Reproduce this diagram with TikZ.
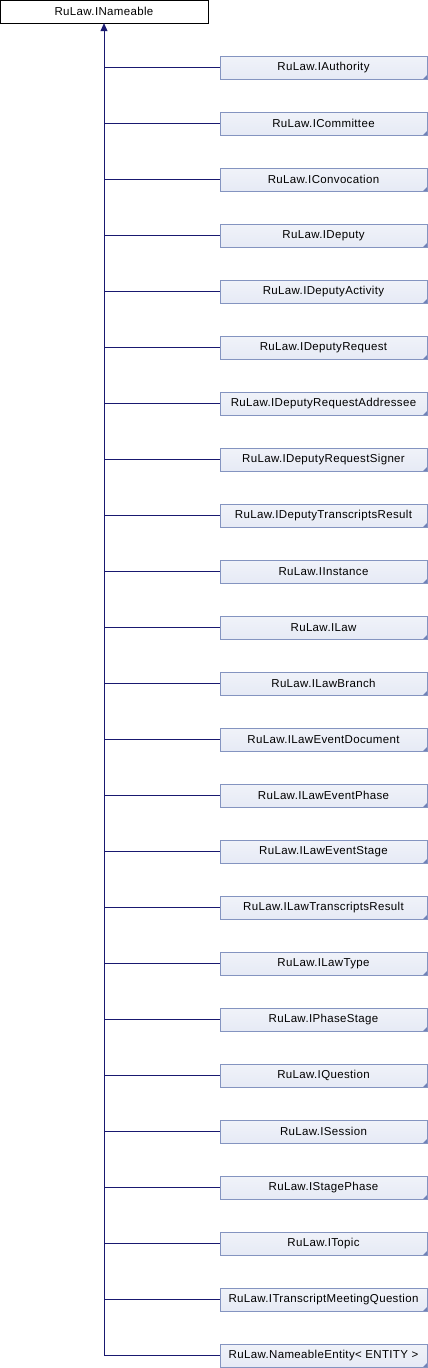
\documentclass[tikz,border=0pt]{standalone}
\usepackage{fontspec}
\setmainfont[LetterSpace=3]{Liberation Sans}
\usepackage{xcolor}
\usetikzlibrary{arrows.meta, positioning}
\definecolor{edgeblue}{HTML}{191970}
\definecolor{boxborder}{HTML}{8494C0}
\definecolor{boxfill}{HTML}{E6EAF5}
\definecolor{boxcorner}{HTML}{7082B8}

\begin{document}
\begin{tikzpicture}[
      x=1pt, y=-1pt,
      every node/.style={font=\fontsize{11.5}{13}\selectfont, minimum height=23pt, inner sep=0pt, align=center},
      rootbox/.style={draw=black, fill=white, minimum width=208pt},
      childbox/.style={draw=boxborder, top color=white!40!boxfill, bottom color=boxfill, minimum width=207pt,
        path picture={\fill[boxcorner] (path picture bounding box.south east) -- ++(-4pt,0pt) -- ++(4pt,4pt) -- cycle;}},
      link/.style={edgeblue, line width=0.8pt},
      arrow/.style={-{Triangle[length=8pt, width=7pt]}, link}
    ]
    \useasboundingbox (0,0) rectangle (428,1368);

    \node[rootbox] (base) at (104,11.5) {RuLaw.INameable};

    \foreach \name [count=\i] in {IAuthority, ICommittee, IConvocation, IDeputy, IDeputyActivity,
        IDeputyRequest, IDeputyRequestAddressee, IDeputyRequestSigner, IDeputyTranscriptsResult,
        IInstance, ILaw, ILawBranch, ILawEventDocument, ILawEventPhase, ILawEventStage,
        ILawTranscriptsResult, ILawType, IPhaseStage, IQuestion, ISession, IStagePhase,
        ITopic, ITranscriptMeetingQuestion, {NameableEntity< ENTITY >}} {
      \node[childbox] (c\i) at (323.5,11.5+56*\i) {RuLaw.\name};
      \coordinate (j\i) at (base.south |- c\i.west);
      \draw[link] (j\i) -- (c\i);
    }

    \draw[arrow] (j24) -- (base);

    \end{tikzpicture}
\end{document}
